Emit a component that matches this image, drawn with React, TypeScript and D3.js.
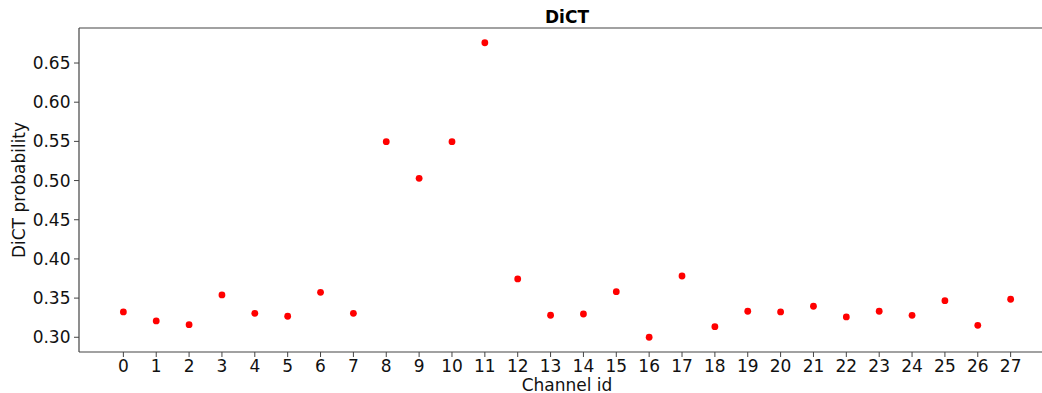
import * as d3 from 'd3'

// channel ids and DiCT probability per channel
const channels = d3.range(0, 28)
const probs = [
  0.3323, 0.3208, 0.3161, 0.354, 0.3306, 0.3268, 0.3574, 0.3306, 0.5496, 0.5029,
  0.5496, 0.6759, 0.3744, 0.3281, 0.3297, 0.3582, 0.300, 0.3782, 0.3135, 0.3332,
  0.3323, 0.3396, 0.326, 0.3332, 0.328, 0.3467, 0.3153, 0.3485,
]
const yTicks = [0.3, 0.35, 0.4, 0.45, 0.5, 0.55, 0.6, 0.65]
const title = 'DiCT'
const xLabel = 'Channel id'
const yLabel = 'DiCT probability'

const W = 1042
const H = 393
const font = "'DejaVu Sans', sans-serif"

export default function App() {
  // axes extend past the right edge of the picture (cropped figure)
  const left = 79
  const right = 1055
  const top = 28
  const bottom = 352

  // matplotlib-style 5% margins
  const xPad = (d3.max(channels)! - d3.min(channels)!) * 0.05
  const x = d3.scaleLinear()
    .domain([d3.min(channels)! - xPad, d3.max(channels)! + xPad])
    .range([left, right])
  const yMin = d3.min(probs)!
  const yMax = d3.max(probs)!
  const yPad = (yMax - yMin) * 0.05
  const y = d3.scaleLinear()
    .domain([yMin - yPad, yMax + yPad])
    .range([bottom, top])

  const axisColor = '#444'
  const tick = 5

  return (
    <svg
      width={W}
      height={H}
      style={{ position: 'absolute', left: 0, top: 0, background: '#fff' }}
      fontFamily={font}
    >
      {/* spines */}
      <line x1={left} x2={right} y1={top} y2={top} stroke={axisColor} strokeWidth={1.2} />
      <line x1={left} x2={right} y1={bottom} y2={bottom} stroke={axisColor} strokeWidth={1.2} />
      <line x1={left} x2={left} y1={top} y2={bottom} stroke={axisColor} strokeWidth={1.2} />
      <line x1={right} x2={right} y1={top} y2={bottom} stroke={axisColor} strokeWidth={1.2} />

      {/* y ticks */}
      {yTicks.map(t => (
        <g key={t}>
          <line x1={left - tick} x2={left} y1={y(t)} y2={y(t)} stroke={axisColor} strokeWidth={1} />
          <text x={left - 8.5} y={y(t)} dy="0.36em" textAnchor="end" fontSize={17} fill="#111">
            {t.toFixed(2)}
          </text>
        </g>
      ))}

      {/* x ticks */}
      {channels.map(c => (
        <g key={c}>
          <line x1={x(c)} x2={x(c)} y1={bottom} y2={bottom + tick} stroke={axisColor} strokeWidth={1} />
          <text x={x(c)} y={372} textAnchor="middle" fontSize={17} fill="#111">
            {c}
          </text>
        </g>
      ))}

      {/* points */}
      {probs.map((p, i) => (
        <circle key={i} cx={x(channels[i])} cy={y(p)} r={3.4} fill="#ff0000" />
      ))}

      <text x={(left + right) / 2} y={23} textAnchor="middle" fontSize={17} fontWeight="bold" fill="#000">
        {title}
      </text>
      <text x={(left + right) / 2} y={391} textAnchor="middle" fontSize={17} fill="#111">
        {xLabel}
      </text>
      <text
        transform={`translate(24.5,${(top + bottom) / 2}) rotate(-90)`}
        textAnchor="middle"
        fontSize={17}
        fill="#111"
      >
        {yLabel}
      </text>
    </svg>
  )
}
